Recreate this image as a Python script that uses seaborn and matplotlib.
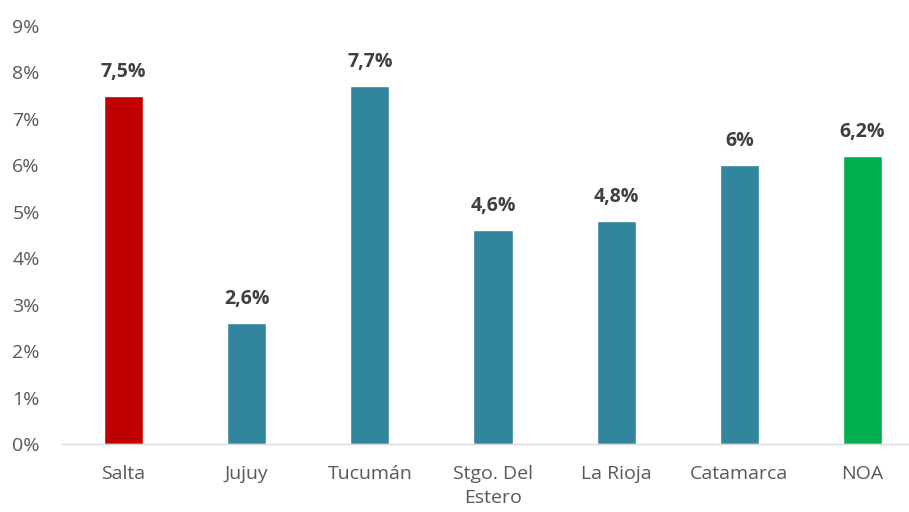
import matplotlib
matplotlib.use('Agg')
import matplotlib.pyplot as plt
import seaborn as sns
import pandas as pd

# datos
regiones = ['Salta', 'Jujuy', 'Tucumán', 'Stgo. Del\nEstero', 'La Rioja', 'Catamarca', 'NOA']
valores = [7.5, 2.6, 7.7, 4.6, 4.8, 6.0, 6.2]
etiquetas = ['7,5%', '2,6%', '7,7%', '4,6%', '4,8%', '6%', '6,2%']
colores = ['#C00000', '#31859C', '#31859C', '#31859C', '#31859C', '#31859C', '#00B050']
yticks = [0, 1, 2, 3, 4, 5, 6, 7, 8, 9]

sns.set_style('white')
plt.rcParams['font.family'] = ['Open Sans', 'DejaVu Sans']

df = pd.DataFrame({'region': regiones, 'valor': valores})

fig = plt.figure(figsize=(9.09, 5.12), dpi=100)
ax = fig.add_axes([62 / 909, 68 / 512, 862 / 909, 418 / 512])

sns.barplot(data=df, x='region', y='valor', hue='region', palette=colores,
            legend=False, width=0.317, saturation=1, ax=ax)

for i, (v, t) in enumerate(zip(valores, etiquetas)):
    ax.annotate(t, (i, v), xytext=(0, 10), textcoords='offset points',
                ha='center', va='bottom', fontsize=14, fontweight='bold',
                color='#404040')

ax.set_ylim(0, 9)
ax.set_xlim(-0.5, 6.5)
ax.set_yticks(yticks)
ax.set_yticklabels([f'{y}%' for y in yticks])
ax.set_xlabel('')
ax.set_ylabel('')
ax.tick_params(axis='y', length=0, pad=16, labelsize=14, labelcolor='#595959')
ax.tick_params(axis='x', length=0, pad=15, labelsize=14, labelcolor='#595959')
for lbl in ax.get_xticklabels():
    lbl.set_linespacing(1.45)
for s in ['top', 'right', 'left']:
    ax.spines[s].set_visible(False)
ax.spines['bottom'].set_color('#D9D9D9')
ax.spines['bottom'].set_linewidth(1)

fig.savefig('out.png', dpi=100)
